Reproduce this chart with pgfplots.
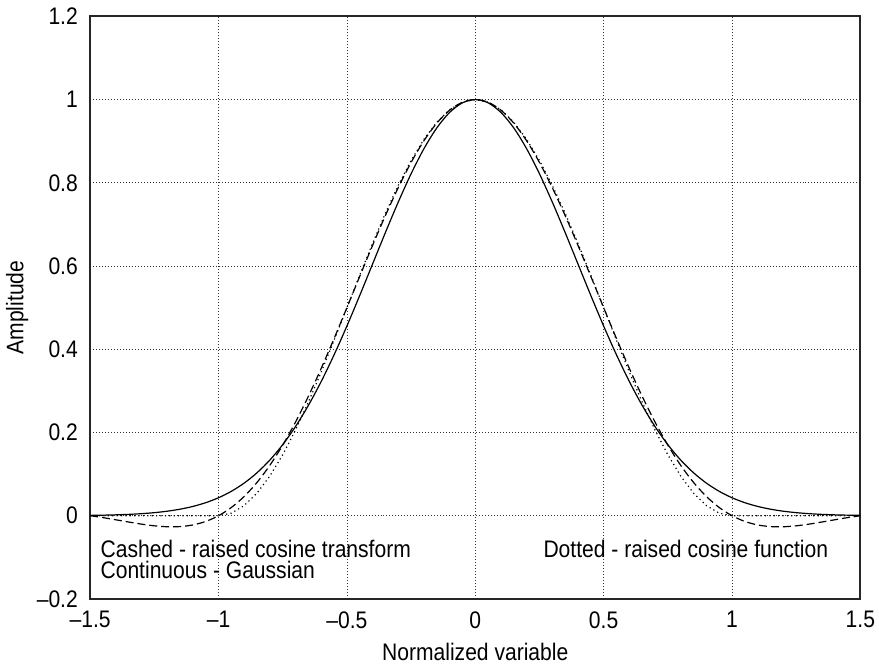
\documentclass[border=0pt]{standalone}
\usepackage{fontspec}
\setmainfont{Liberation Sans}[FakeStretch=0.88]
\usepackage{pgfplots}
\pgfplotsset{compat=1.18}
\begin{document}
\fontsize{12pt}{14pt}\selectfont
\begin{tikzpicture}
\begin{axis}[
  scale only axis,
  width=386pt, height=292pt,
  xmin=-1.5, xmax=1.5, ymin=-0.2, ymax=1.2,
  xtick={-1.5,-1,-0.5,0,0.5,1,1.5},
  xticklabels={–1.5,–1,–0.5,0,0.5,1,1.5},
  ytick={-0.2,0,0.2,0.4,0.6,0.8,1,1.2},
  yticklabels={–0.2,0,0.2,0.4,0.6,0.8,1,1.2},
  tick style={draw=none},
  grid=major,
  major grid style={black!80, line width=0.4pt, dash pattern=on 0.5pt off 1pt},
  axis line style={line width=1.1pt, black!85},
  every tick label/.append style={font=\fontsize{12pt}{14pt}\selectfont},
  xticklabel style={yshift=-2pt, inner xsep=2pt},
  yticklabel style={xshift=-2pt},
  xlabel={Normalized variable},
  ylabel={Amplitude},
  label style={font=\fontsize{12pt}{14pt}\selectfont},
  xlabel style={at={(axis description cs:0.5,0)}, anchor=north, yshift=-20.5pt, inner sep=1.5pt},
  ylabel style={at={(axis description cs:-0.0868,0.5)}, anchor=base, inner sep=3pt},
]
% Gaussian (continuous)
\addplot[black, line width=0.6pt, smooth] coordinates {
(-1.50,0.00085) (-1.45,0.00135) (-1.40,0.00212) (-1.35,0.00326) (-1.30,0.00494)
(-1.25,0.00738) (-1.20,0.01085) (-1.15,0.01569) (-1.10,0.02234) (-1.05,0.03132)
(-1.00,0.04321) (-0.95,0.05870) (-0.90,0.07848) (-0.85,0.10333) (-0.80,0.13389)
(-0.75,0.17083) (-0.70,0.21451) (-0.65,0.26518) (-0.60,0.32272) (-0.55,0.38662)
(-0.50,0.45594) (-0.45,0.52934) (-0.40,0.60492) (-0.35,0.68059) (-0.30,0.75371)
(-0.25,0.82172) (-0.20,0.88191) (-0.15,0.93176) (-0.10,0.96907) (-0.05,0.99218)
(0,1)
(0.05,0.99218) (0.10,0.96907) (0.15,0.93176) (0.20,0.88191) (0.25,0.82172)
(0.30,0.75371) (0.35,0.68059) (0.40,0.60492) (0.45,0.52934) (0.50,0.45594)
(0.55,0.38662) (0.60,0.32272) (0.65,0.26518) (0.70,0.21451) (0.75,0.17083)
(0.80,0.13389) (0.85,0.10333) (0.90,0.07848) (0.95,0.05870) (1.00,0.04321)
(1.05,0.03132) (1.10,0.02234) (1.15,0.01569) (1.20,0.01085) (1.25,0.00738)
(1.30,0.00494) (1.35,0.00326) (1.40,0.00212) (1.45,0.00135) (1.50,0.00085)
};
% Raised cosine function (dotted)
\addplot[black, line width=0.6pt, dash pattern=on 0.6pt off 1.6pt] coordinates {
(-1.50,0) (-1.00,0)
(-0.95,0.00616) (-0.90,0.02447) (-0.85,0.05450) (-0.80,0.09549) (-0.75,0.14645)
(-0.70,0.20611) (-0.65,0.27300) (-0.60,0.34549) (-0.55,0.42178) (-0.50,0.5)
(-0.45,0.57822) (-0.40,0.65451) (-0.35,0.72700) (-0.30,0.79389) (-0.25,0.85355)
(-0.20,0.90451) (-0.15,0.94550) (-0.10,0.97553) (-0.05,0.99384) (0,1)
(0.05,0.99384) (0.10,0.97553) (0.15,0.94550) (0.20,0.90451) (0.25,0.85355)
(0.30,0.79389) (0.35,0.72700) (0.40,0.65451) (0.45,0.57822) (0.50,0.5)
(0.55,0.42178) (0.60,0.34549) (0.65,0.27300) (0.70,0.20611) (0.75,0.14645)
(0.80,0.09549) (0.85,0.05450) (0.90,0.02447) (0.95,0.00616) (1.00,0)
(1.50,0)
};
% Raised cosine transform (dashed)
\addplot[black, line width=0.6pt, dash pattern=on 4pt off 2pt, smooth] coordinates {
(-1.50,0) (-1.45,-0.00458) (-1.40,-0.00977) (-1.35,-0.01516) (-1.30,-0.02021)
(-1.25,-0.02425) (-1.20,-0.02650) (-1.15,-0.02610) (-1.10,-0.02215) (-1.05,-0.01374)
(-1.00,0) (-0.95,0.01984) (-0.90,0.04640) (-0.85,0.08015) (-0.80,0.12129)
(-0.75,0.16977) (-0.70,0.22525) (-0.65,0.28709) (-0.60,0.35435) (-0.55,0.42582)
(-0.50,0.5) (-0.45,0.57522) (-0.40,0.64964) (-0.35,0.72134) (-0.30,0.78836)
(-0.25,0.84883) (-0.20,0.90099) (-0.15,0.94329) (-0.10,0.97447) (-0.05,0.99357)
(0,1)
(0.05,0.99357) (0.10,0.97447) (0.15,0.94329) (0.20,0.90099) (0.25,0.84883)
(0.30,0.78836) (0.35,0.72134) (0.40,0.64964) (0.45,0.57522) (0.50,0.5)
(0.55,0.42582) (0.60,0.35435) (0.65,0.28709) (0.70,0.22525) (0.75,0.16977)
(0.80,0.12129) (0.85,0.08015) (0.90,0.04640) (0.95,0.01984) (1.00,0)
(1.05,-0.01374) (1.10,-0.02215) (1.15,-0.02610) (1.20,-0.02650) (1.25,-0.02425)
(1.30,-0.02021) (1.35,-0.01516) (1.40,-0.00977) (1.45,-0.00458) (1.50,0)
};
\node[anchor=north west, inner sep=0pt, align=left, font=\fontsize{12pt}{10.5pt}\selectfont]
  at (axis cs:-1.461,-0.058) {Cashed - raised cosine transform\\Continuous - Gaussian};
\node[anchor=base east, inner sep=0pt] at (axis cs:1.376,-0.1) {Dotted - raised cosine function};
\end{axis}
\end{tikzpicture}
\end{document}
